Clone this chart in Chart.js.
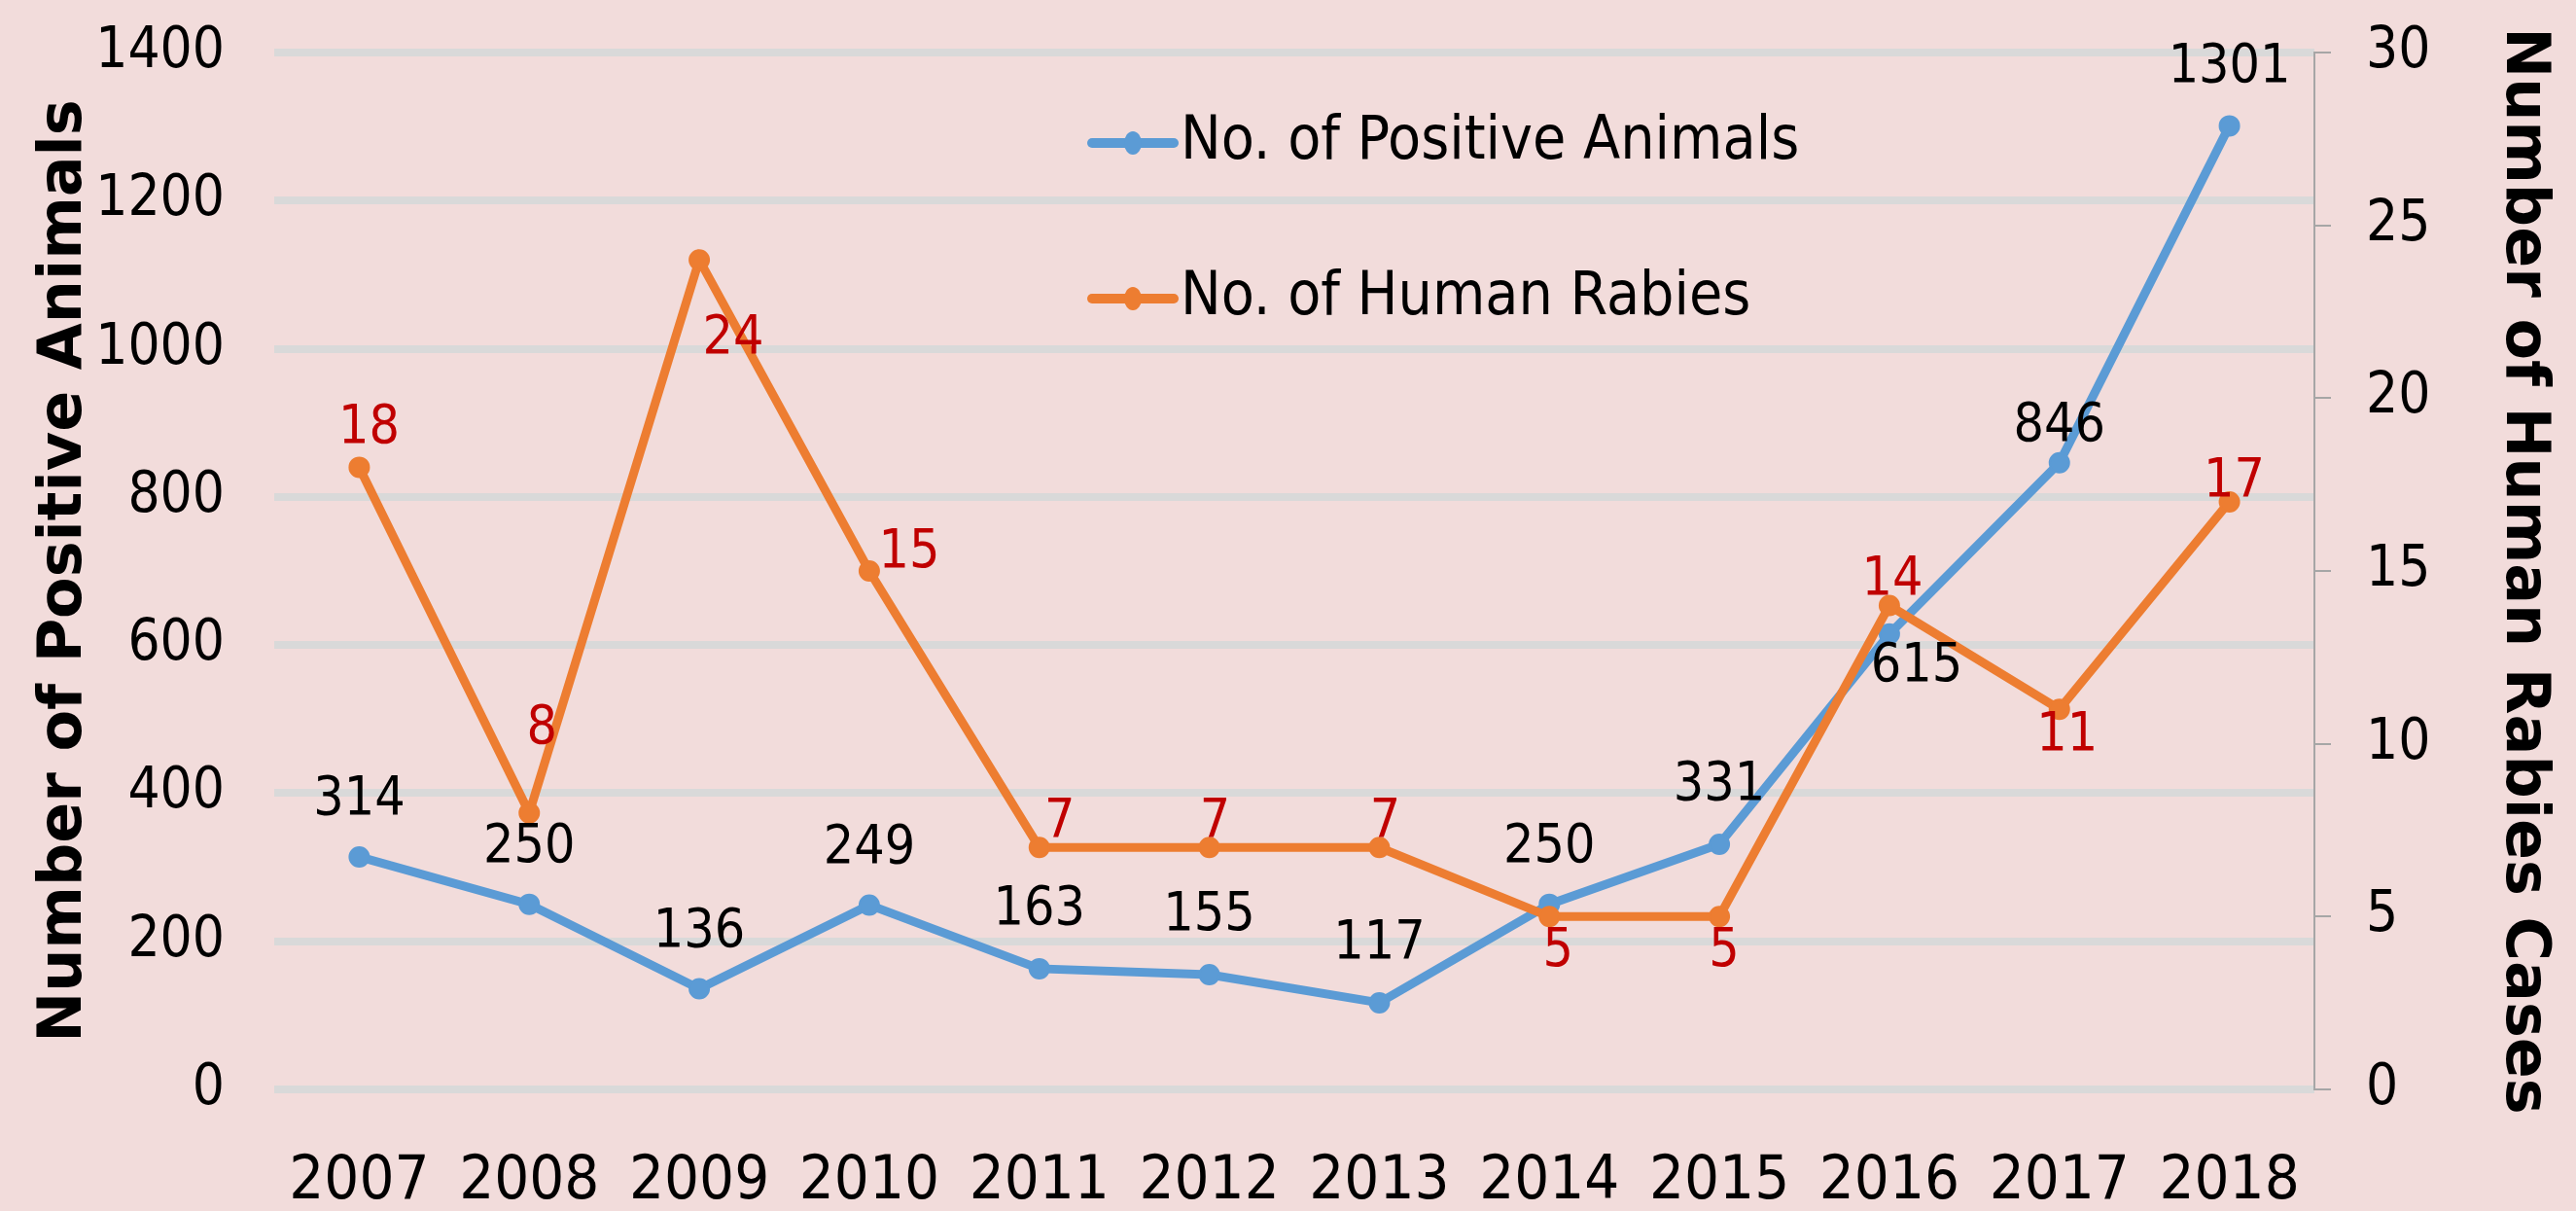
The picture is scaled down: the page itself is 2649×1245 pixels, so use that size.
<!DOCTYPE html>
<html>
<head>
<meta charset="utf-8">
<title>Positive animals and human rabies, 2007-2018</title>
<script src="https://cdn.jsdelivr.net/npm/chart.js@4.4.1/dist/chart.umd.min.js"></script>
<style>
  html, body { margin: 0; padding: 0; background: #F2DCDB; }
  #wrap { width: 2649px; height: 1245px; }
</style>
</head>
<body>
<div id="wrap"><canvas id="chart"></canvas></div>
<script>
// data
const years = ["2007", "2008", "2009", "2010", "2011", "2012", "2013", "2014", "2015", "2016", "2017", "2018"];
const positiveAnimals = [314, 250, 136, 249, 163, 155, 117, 250, 331, 615, 846, 1301];
const humanRabies = [18, 8, 24, 15, 7, 7, 7, 5, 5, 14, 11, 17];
const animalTicks = [0, 200, 400, 600, 800, 1000, 1200, 1400];
const humanTicks = [0, 5, 10, 15, 20, 25, 30];

// where each value label sits relative to its point (px)
const animalLabelOffsets = [[0, -58], [0, -58], [0, -58], [0, -58], [0, -60], [0, -60], [0, -60], [0, -58], [0, -60], [28, 34], [0, -37], [0, -60]];
const humanLabelOffsets = [[10, -40], [13, -86], [35, 82], [41, -18], [21, -26], [6, -26], [6, -26], [9, 36], [5, 36], [3, -26], [8, 28], [5, -20]];

const NARROW = "'Liberation Sans Narrow', 'DejaVu Sans Condensed', sans-serif";
const BOLD = "'DejaVu Sans', Verdana, sans-serif";

const valueLabels = {
  id: "valueLabels",
  afterDatasetsDraw(chart) {
    const ctx = chart.ctx;
    chart.data.datasets.forEach((ds, i) => {
      const meta = chart.getDatasetMeta(i);
      ctx.save();
      ctx.font = "55px " + NARROW;
      ctx.fillStyle = ds.labelColor;
      ctx.textAlign = "center";
      ctx.textBaseline = "middle";
      meta.data.forEach((pt, j) => {
        const off = ds.labelOffsets[j];
        ctx.fillText(String(ds.data[j]), pt.x + off[0], pt.y + off[1]);
      });
      ctx.restore();
    });
  }
};

// legend sits inside the plot, stacked
const insideLegend = {
  id: "insideLegend",
  afterDraw(chart) {
    const ctx = chart.ctx;
    const x0 = 1123, x1 = 1207, y0 = 147, step = 160;
    chart.data.datasets.forEach((ds, i) => {
      const y = y0 + i * step;
      ctx.save();
      ctx.strokeStyle = ds.borderColor;
      ctx.lineWidth = 10;
      ctx.lineCap = "round";
      ctx.beginPath();
      ctx.moveTo(x0, y);
      ctx.lineTo(x1, y);
      ctx.stroke();
      ctx.fillStyle = ds.borderColor;
      ctx.beginPath();
      ctx.ellipse((x0 + x1) / 2, y, 9, 12, 0, 0, Math.PI * 2);
      ctx.fill();
      ctx.fillStyle = "#000000";
      ctx.font = "62px " + NARROW;
      ctx.textAlign = "left";
      ctx.textBaseline = "middle";
      ctx.fillText(ds.label, x1 + 7, y);
      ctx.restore();
    });
  }
};

const plainNumber = (v) => String(v);

// fixed axis sizes; drop the extra label padding chart.js puts above/below the plot
const fixWidth = (w) => (s) => {
  s.width = w;
  s.paddingTop = 0;
  s.paddingBottom = 0;
};

new Chart(document.getElementById("chart"), {
  type: "line",
  data: {
    labels: years,
    datasets: [
      {
        label: "No. of Positive Animals",
        data: positiveAnimals,
        yAxisID: "yAnimals",
        borderColor: "#5B9BD5",
        backgroundColor: "#5B9BD5",
        pointBackgroundColor: "#5B9BD5",
        pointBorderColor: "#5B9BD5",
        borderWidth: 9,
        pointRadius: 10,
        pointBorderWidth: 2,
        tension: 0,
        order: 1,
        labelColor: "#000000",
        labelOffsets: animalLabelOffsets
      },
      {
        label: "No. of Human Rabies",
        data: humanRabies,
        yAxisID: "yHuman",
        borderColor: "#ED7D31",
        backgroundColor: "#ED7D31",
        pointBackgroundColor: "#ED7D31",
        pointBorderColor: "#ED7D31",
        borderWidth: 9,
        pointRadius: 10,
        pointBorderWidth: 2,
        tension: 0,
        order: 0,
        labelColor: "#C00000",
        labelOffsets: humanLabelOffsets
      }
    ]
  },
  options: {
    responsive: true,
    maintainAspectRatio: false,
    animation: false,
    layout: { padding: { top: 54, left: 0, right: 0, bottom: 0 } },
    plugins: {
      legend: { display: false },
      tooltip: { enabled: false }
    },
    scales: {
      x: {
        offset: true,
        grid: { display: false, offset: true },
        border: { display: false },
        ticks: {
          color: "#000000",
          font: { family: NARROW, size: 63 },
          padding: 50,
          maxRotation: 0,
          autoSkip: false
        },
        afterFit: (s) => { s.height = 125; }
      },
      yAnimals: {
        position: "left",
        min: 0,
        max: 1400,
        afterBuildTicks: (s) => { s.ticks = animalTicks.map((v) => ({ value: v })); },
        grid: { color: "#D9D9D9", lineWidth: 8, drawTicks: false },
        border: { display: false },
        ticks: { color: "#000000", font: { family: NARROW, size: 58 }, padding: 51, callback: plainNumber },
        title: {
          display: true,
          text: "Number of Positive Animals",
          color: "#000000",
          font: { family: BOLD, size: 62, weight: "bold" },
          padding: { top: 30, bottom: 0 }
        },
        afterFit: fixWidth(282)
      },
      yHuman: {
        position: "right",
        min: 0,
        max: 30,
        afterBuildTicks: (s) => { s.ticks = humanTicks.map((v) => ({ value: v })); },
        grid: { drawOnChartArea: false, drawTicks: true, tickLength: 17, color: "#A6A6A6", lineWidth: 2 },
        border: { display: true, color: "#A6A6A6", width: 2 },
        ticks: { color: "#000000", font: { family: NARROW, size: 58 }, padding: 36, callback: plainNumber },
        title: {
          display: true,
          text: "Number of Human Rabies Cases",
          color: "#000000",
          font: { family: BOLD, size: 62, weight: "bold" },
          padding: { top: 18, bottom: 0 }
        },
        afterFit: fixWidth(269)
      }
    }
  },
  plugins: [valueLabels, insideLegend]
});
</script>
</body>
</html>
